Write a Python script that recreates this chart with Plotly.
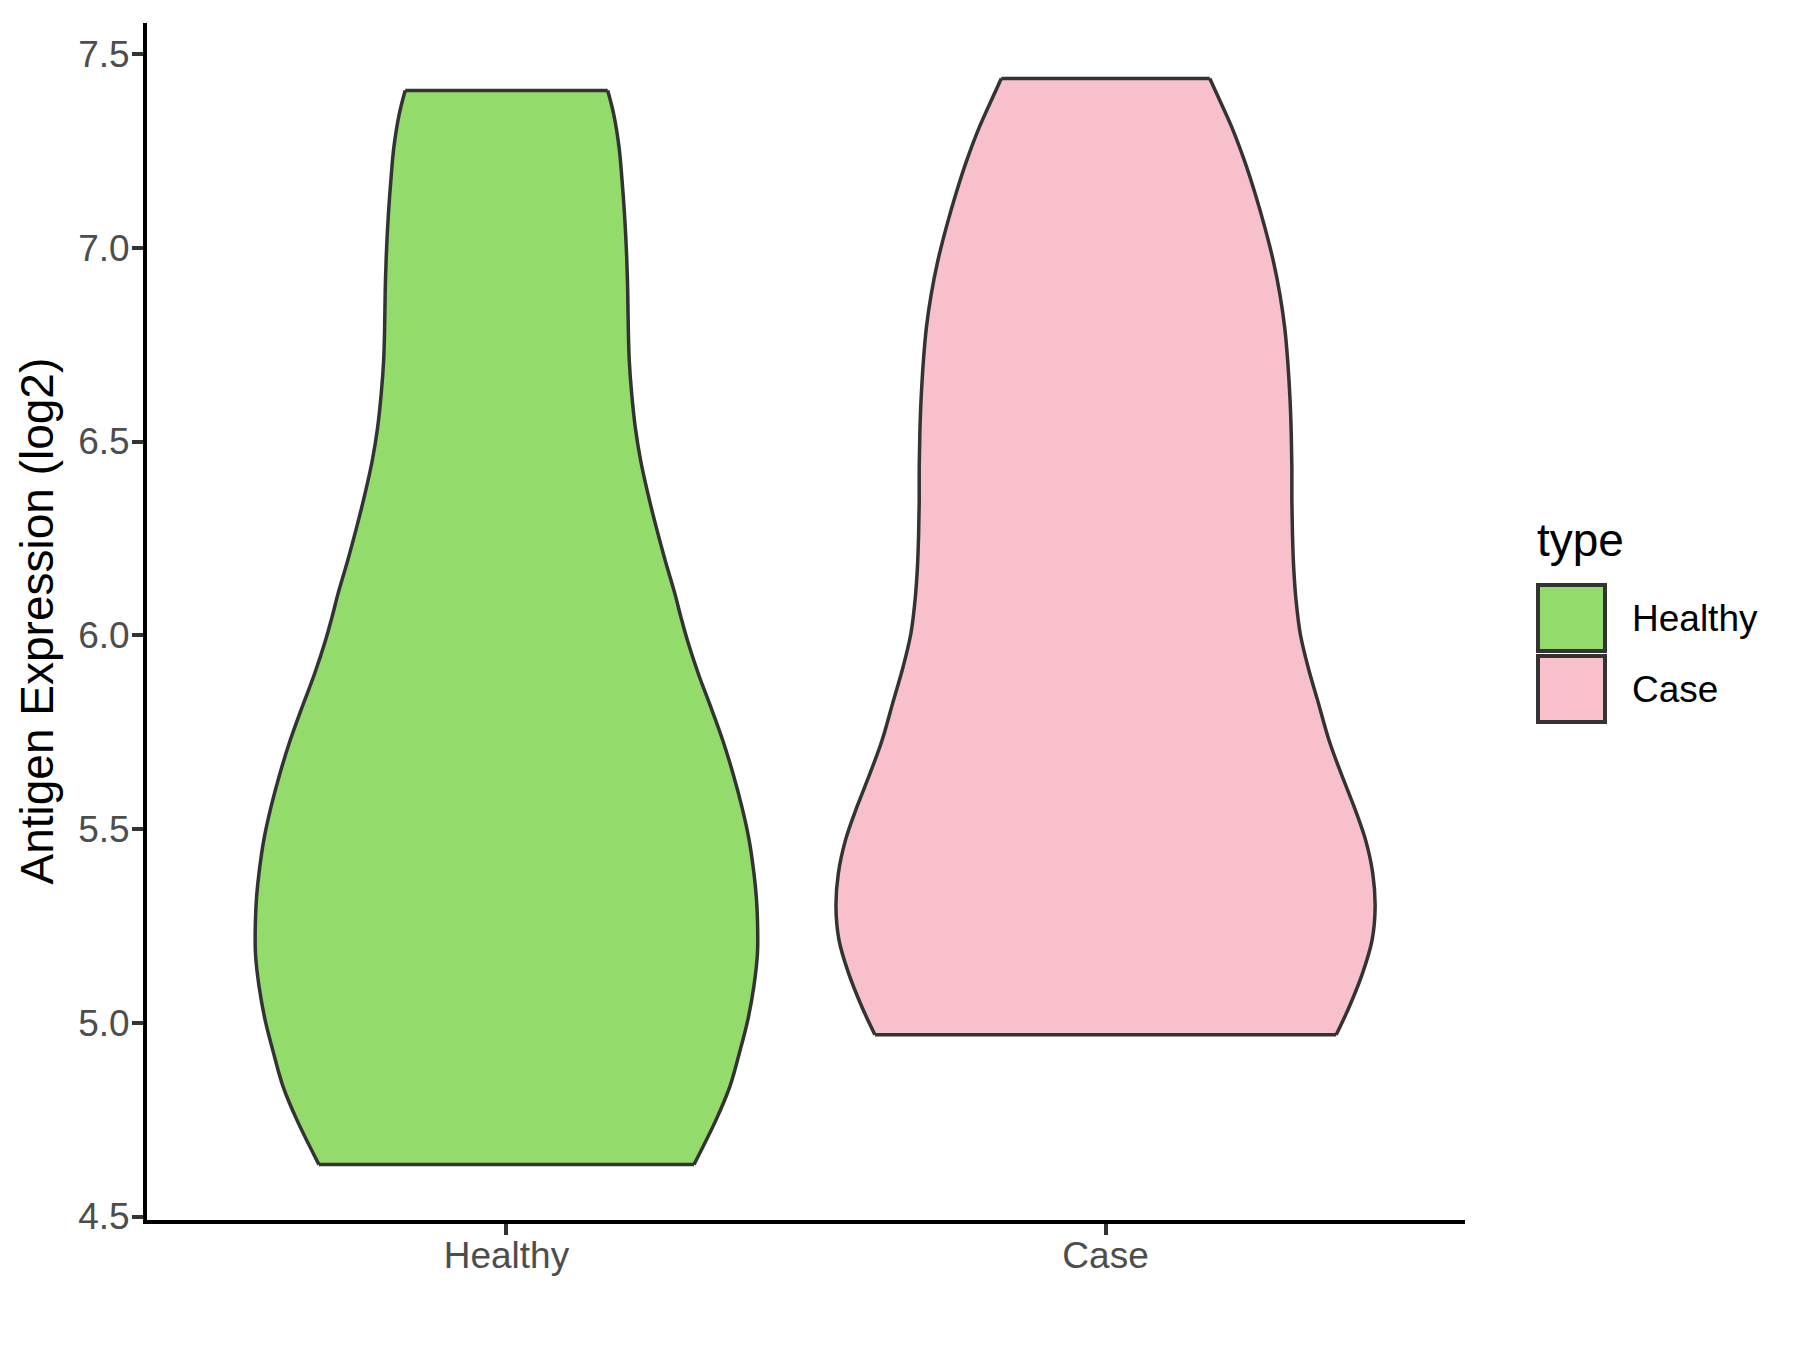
import plotly.graph_objects as go

# ---- data ----
categories = ["Healthy", "Case"]
fill_colors = ["#93DB6B", "#F7C0CB"]

# density profile: y level (log2 expression) and half-width (in category units)
healthy_y = [7.406, 7.345, 7.259, 7.173, 7.088, 7.001, 6.914, 6.830, 6.770, 6.709, 6.624, 6.537,
             6.451, 6.366, 6.279, 6.193, 6.108, 6.048, 5.987, 5.902, 5.815, 5.729, 5.644, 5.557,
             5.472, 5.387, 5.326, 5.265, 5.180, 5.094, 5.008, 4.923, 4.836, 4.750, 4.634]
healthy_w = [0.169, 0.179, 0.188, 0.193, 0.197, 0.200, 0.202, 0.203, 0.2037, 0.205, 0.209, 0.215,
             0.224, 0.236, 0.250, 0.265, 0.281, 0.291, 0.302, 0.320, 0.341, 0.361, 0.378, 0.393,
             0.405, 0.413, 0.417, 0.419, 0.419, 0.413, 0.403, 0.389, 0.373, 0.350, 0.313]

case_y = [7.437, 7.396, 7.310, 7.224, 7.138, 7.052, 6.966, 6.880, 6.795, 6.709, 6.606,
          6.520, 6.434, 6.348, 6.262, 6.176, 6.090, 6.004, 5.918, 5.832, 5.729, 5.644,
          5.557, 5.472, 5.386, 5.300, 5.214, 5.128, 5.042, 4.969]
case_w = [0.174, 0.186, 0.211, 0.232, 0.250, 0.266, 0.280, 0.291, 0.299, 0.304, 0.308,
          0.310, 0.311, 0.311, 0.312, 0.314, 0.318, 0.325, 0.338, 0.354, 0.373, 0.393,
          0.415, 0.434, 0.446, 0.450, 0.445, 0.429, 0.407, 0.385]

profiles = [(healthy_y, healthy_w), (case_y, case_w)]

y_ticks = [4.5, 5.0, 5.5, 6.0, 6.5, 7.0, 7.5]
y_tick_text = ["4.5", "5.0", "5.5", "6.0", "6.5", "7.0", "7.5"]

# ---- layout geometry ----
W, H = 1800, 1350
PAGE_OFF = 8  # default body margin of the html page
L, R, T, B = 147 - PAGE_OFF, 343, 23 - PAGE_OFF, 138
plot_w = W - L - R
plot_h = H - T - B

def px_x(p):
    """page pixel x -> paper coordinate"""
    return (p - PAGE_OFF - L) / plot_w

def px_y(p):
    """page pixel y -> paper coordinate"""
    return (H - B - (p - PAGE_OFF)) / plot_h

OUTLINE = "#333333"
LW = 3.5

fig = go.Figure()

for i, (ys, ws) in enumerate(profiles):
    c = i + 1
    right_x = [c + w for w in ws]
    left_x = [c - w for w in ws]
    fig.add_trace(go.Scatter(
        x=right_x + left_x[::-1], y=ys + ys[::-1],
        mode="lines", fill="toself", fillcolor=fill_colors[i],
        line=dict(width=0, color=fill_colors[i]),
        hoverinfo="skip", showlegend=False))
    for sx in (right_x, left_x):
        fig.add_trace(go.Scatter(
            x=sx, y=ys, mode="lines",
            line=dict(color=OUTLINE, width=LW, shape="spline", smoothing=1.0),
            hoverinfo="skip", showlegend=False))
    for k in (0, -1):
        fig.add_trace(go.Scatter(
            x=[left_x[k], right_x[k]], y=[ys[k], ys[k]], mode="lines",
            line=dict(color=OUTLINE, width=LW),
            hoverinfo="skip", showlegend=False))

axis_font = dict(family="Liberation Sans, Arial, sans-serif", size=37, color="#4D4D4D")

fig.update_layout(
    width=W, height=H,
    margin=dict(l=L, r=R, t=T, b=B, pad=0),
    paper_bgcolor="white", plot_bgcolor="white",
    font=dict(family="Liberation Sans, Arial, sans-serif"),
    xaxis=dict(range=[0.4, 2.6], tickvals=[1, 2], ticktext=categories,
               showgrid=False, zeroline=False, showline=True, linecolor="black",
               linewidth=4, ticks="outside", ticklen=11, tickwidth=3.5,
               tickcolor=OUTLINE, tickfont=axis_font, ticklabelstandoff=-11),
    yaxis=dict(range=[4.491, 7.58], tickvals=y_ticks, ticktext=y_tick_text,
               showgrid=False, zeroline=False, showline=True, linecolor="black",
               linewidth=4, ticks="outside", ticklen=11, tickwidth=3.5,
               tickcolor=OUTLINE, tickfont=axis_font, ticklabelstandoff=-5),
)

annotations = [
    dict(text="Antigen Expression (log2)", textangle=-90, x=px_x(36), y=0.5,
         xref="paper", yref="paper", xanchor="center", yanchor="middle",
         showarrow=False, font=dict(size=46, color="black")),
    dict(text="type", x=px_x(1535), y=px_y(540), xref="paper", yref="paper",
         xanchor="left", yanchor="middle", showarrow=False,
         font=dict(size=46, color="black")),
]
shapes = []
key_tops = [585, 656]
key_h = 66
for i, name in enumerate(categories):
    top = key_tops[i]
    shapes.append(dict(type="rect", xref="paper", yref="paper",
                       x0=px_x(1538), x1=px_x(1605), y0=px_y(top), y1=px_y(top + key_h),
                       fillcolor=fill_colors[i], line=dict(color=OUTLINE, width=4)))
    annotations.append(dict(text=name, x=px_x(1630), y=px_y(top + key_h / 2),
                            xref="paper", yref="paper", xanchor="left", yanchor="middle",
                            showarrow=False, font=dict(size=37, color="black")))

fig.update_layout(annotations=annotations, shapes=shapes)

fig.write_html("out.html")
